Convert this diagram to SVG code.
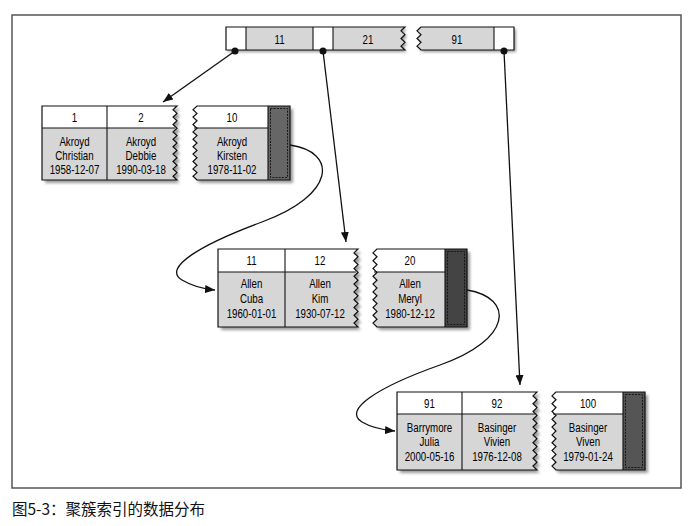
<svg xmlns="http://www.w3.org/2000/svg" xmlns:xlink="http://www.w3.org/1999/xlink" width="691" height="526" viewBox="0 0 691 526">
<style>
.frame{fill:none;stroke:#555;stroke-width:1.5}
.edge{fill:none;stroke:#111;stroke-width:1.2}
.ln{stroke:#111;stroke-width:1.1}
.body{fill:#d6d6d6}
.hdr{fill:#fff}
.dark{fill:#666}
.dash{fill:none;stroke:#111;stroke-width:0.9;stroke-dasharray:2 1.2}
.sh{fill:#9a9a9a}
.t{font-family:"Liberation Sans",Arial,sans-serif;font-size:13.5px;fill:#000;text-anchor:middle}
.s{font-size:12.8px}
.con{fill:none;stroke:#111;stroke-width:1.3}
.cap{font-family:"Noto Sans CJK SC",sans-serif;font-size:15.5px;fill:#111}
</style>
<defs>
<filter id="blur" x="-20%" y="-20%" width="140%" height="140%"><feGaussianBlur stdDeviation="1.8"/></filter>
<marker id="ah" viewBox="0 0 10 8" refX="10" refY="4" markerWidth="10" markerHeight="8" markerUnits="userSpaceOnUse" orient="auto"><path d="M0,0 L10,4 L0,8 Z" fill="#111"/></marker>
<path id="tA" d="M226,27 H405 l-4,3.83 l4,3.83 l-4,3.83 l4,3.83 l-4,3.83 l4,3.83 H226 Z"/>
<path id="tB" d="M421,27 H514 V50 H421 l-4,-3.83 l4,-3.83 l-4,-3.83 l4,-3.83 l-4,-3.83 l4,-3.83 Z"/>
<path id="aA" d="M42,106 H177 l-4,3.7 l4,3.7 l-4,3.7 l4,3.7 l-4,3.7 l4,3.7 l-4,3.7 l4,3.7 l-4,3.7 l4,3.7 l-4,3.7 l4,3.7 l-4,3.7 l4,3.7 l-4,3.7 l4,3.7 l-4,3.7 l4,3.7 l-4,3.7 l4,3.7 H42 Z"/>
<path id="aB" d="M197,106 H290 V180 H197 l-4,-3.7 l4,-3.7 l-4,-3.7 l4,-3.7 l-4,-3.7 l4,-3.7 l-4,-3.7 l4,-3.7 l-4,-3.7 l4,-3.7 l-4,-3.7 l4,-3.7 l-4,-3.7 l4,-3.7 l-4,-3.7 l4,-3.7 l-4,-3.7 l4,-3.7 l-4,-3.7 l4,-3.7 Z"/>
<path id="bA" d="M218,249 H358 l-4,3.9 l4,3.9 l-4,3.9 l4,3.9 l-4,3.9 l4,3.9 l-4,3.9 l4,3.9 l-4,3.9 l4,3.9 l-4,3.9 l4,3.9 l-4,3.9 l4,3.9 l-4,3.9 l4,3.9 l-4,3.9 l4,3.9 l-4,3.9 l4,3.9 H218 Z"/>
<path id="bB" d="M377,249 H467 V327 H377 l-4,-3.9 l4,-3.9 l-4,-3.9 l4,-3.9 l-4,-3.9 l4,-3.9 l-4,-3.9 l4,-3.9 l-4,-3.9 l4,-3.9 l-4,-3.9 l4,-3.9 l-4,-3.9 l4,-3.9 l-4,-3.9 l4,-3.9 l-4,-3.9 l4,-3.9 l-4,-3.9 l4,-3.9 Z"/>
<path id="cA" d="M397,392 H537 l-4,3.9 l4,3.9 l-4,3.9 l4,3.9 l-4,3.9 l4,3.9 l-4,3.9 l4,3.9 l-4,3.9 l4,3.9 l-4,3.9 l4,3.9 l-4,3.9 l4,3.9 l-4,3.9 l4,3.9 l-4,3.9 l4,3.9 l-4,3.9 l4,3.9 H397 Z"/>
<path id="cB" d="M556,392 H645 V470 H556 l-4,-3.9 l4,-3.9 l-4,-3.9 l4,-3.9 l-4,-3.9 l4,-3.9 l-4,-3.9 l4,-3.9 l-4,-3.9 l4,-3.9 l-4,-3.9 l4,-3.9 l-4,-3.9 l4,-3.9 l-4,-3.9 l4,-3.9 l-4,-3.9 l4,-3.9 l-4,-3.9 l4,-3.9 Z"/>
<clipPath id="ctA"><use xlink:href="#tA"/></clipPath>
<clipPath id="ctB"><use xlink:href="#tB"/></clipPath>
<clipPath id="caA"><use xlink:href="#aA"/></clipPath>
<clipPath id="caB"><use xlink:href="#aB"/></clipPath>
<clipPath id="cbA"><use xlink:href="#bA"/></clipPath>
<clipPath id="cbB"><use xlink:href="#bB"/></clipPath>
<clipPath id="ccA"><use xlink:href="#cA"/></clipPath>
<clipPath id="ccB"><use xlink:href="#cB"/></clipPath>
</defs>
<rect width="691" height="526" fill="#fff"/>
<rect class="frame" x="12" y="15" width="669" height="473"/>

<g id="root">
<use xlink:href="#tA" class="sh" transform="translate(2,2)" filter="url(#blur)"/>
<use xlink:href="#tB" class="sh" transform="translate(2,2)" filter="url(#blur)"/>
<g clip-path="url(#ctA)">
<rect x="220" y="27" width="190" height="23" class="body"/>
<rect x="226" y="27" width="20" height="23" class="hdr"/>
<rect x="313" y="27" width="20" height="23" class="hdr"/>
</g>
<g clip-path="url(#ctB)">
<rect x="410" y="27" width="110" height="23" class="body"/>
<rect x="494" y="27" width="20" height="23" class="hdr"/>
</g>
<line class="ln" x1="246" y1="27" x2="246" y2="50"/>
<line class="ln" x1="313" y1="27" x2="313" y2="50"/>
<line class="ln" x1="333" y1="27" x2="333" y2="50"/>
<line class="ln" x1="494" y1="27" x2="494" y2="50"/>
<use xlink:href="#tA" class="edge"/>
<use xlink:href="#tB" class="edge"/>
<text class="t" transform="translate(279.5 43.5) scale(0.72 1)">11</text>
<text class="t" transform="translate(368 43.5) scale(0.72 1)">21</text>
<text class="t" transform="translate(457 43.5) scale(0.72 1)">91</text>
</g>

<g id="leaf1">
<use xlink:href="#aA" class="sh" transform="translate(3,3)" filter="url(#blur)"/>
<use xlink:href="#aB" class="sh" transform="translate(3,3)" filter="url(#blur)"/>
<g clip-path="url(#caA)">
<rect x="40" y="106" width="140" height="74" class="body"/>
<rect x="40" y="106" width="140" height="22" class="hdr"/>
</g>
<line class="ln" x1="42" y1="128" x2="175" y2="128"/>
<line class="ln" x1="107" y1="106" x2="107" y2="180"/>
<use xlink:href="#aA" class="edge"/>
<g clip-path="url(#caB)">
<rect x="190" y="106" width="100" height="74" class="body"/>
<rect x="190" y="106" width="78" height="22" class="hdr"/>
<rect x="268" y="106" width="22" height="74" class="dark"/>
</g>
<rect x="270.5" y="108.5" width="17" height="69" class="dash"/>
<line class="ln" x1="194" y1="128" x2="268" y2="128"/>
<line class="ln" x1="268" y1="106" x2="268" y2="180"/>
<use xlink:href="#aB" class="edge"/>
<text class="t" transform="translate(74.5 122) scale(0.72 1)">1</text>
<text class="t" transform="translate(141 122) scale(0.72 1)">2</text>
<text class="t" transform="translate(232 122) scale(0.72 1)">10</text>
<text class="t s" transform="translate(74.5 146) scale(0.76 1)">Akroyd</text>
<text class="t s" transform="translate(74.5 160) scale(0.76 1)">Christian</text>
<text class="t s" transform="translate(74.5 174) scale(0.76 1)">1958-12-07</text>
<text class="t s" transform="translate(141 146) scale(0.76 1)">Akroyd</text>
<text class="t s" transform="translate(141 160) scale(0.76 1)">Debbie</text>
<text class="t s" transform="translate(141 174) scale(0.76 1)">1990-03-18</text>
<text class="t s" transform="translate(232 146) scale(0.76 1)">Akroyd</text>
<text class="t s" transform="translate(232 160) scale(0.76 1)">Kirsten</text>
<text class="t s" transform="translate(232 174) scale(0.76 1)">1978-11-02</text>
</g>

<g id="leaf2">
<use xlink:href="#bA" class="sh" transform="translate(3,3)" filter="url(#blur)"/>
<use xlink:href="#bB" class="sh" transform="translate(3,3)" filter="url(#blur)"/>
<g clip-path="url(#cbA)">
<rect x="216" y="249" width="145" height="78" class="body"/>
<rect x="216" y="249" width="145" height="23" class="hdr"/>
</g>
<line class="ln" x1="218" y1="272" x2="356" y2="272"/>
<line class="ln" x1="285" y1="249" x2="285" y2="327"/>
<use xlink:href="#bA" class="edge"/>
<g clip-path="url(#cbB)">
<rect x="370" y="249" width="97" height="78" class="body"/>
<rect x="370" y="249" width="75" height="23" class="hdr"/>
<rect x="445" y="249" width="22" height="78" class="dark" style="fill:#444"/>
</g>
<rect x="447.5" y="251.5" width="17" height="73" class="dash"/>
<line class="ln" x1="374" y1="272" x2="445" y2="272"/>
<line class="ln" x1="445" y1="249" x2="445" y2="327"/>
<use xlink:href="#bB" class="edge"/>
<text class="t" transform="translate(251.5 264.5) scale(0.72 1)">11</text>
<text class="t" transform="translate(320 264.5) scale(0.72 1)">12</text>
<text class="t" transform="translate(410 264.5) scale(0.72 1)">20</text>
<text class="t" transform="translate(251.5 288) scale(0.72 1)">Allen</text>
<text class="t" transform="translate(251.5 302.5) scale(0.72 1)">Cuba</text>
<text class="t" transform="translate(251.5 318) scale(0.72 1)">1960-01-01</text>
<text class="t" transform="translate(320 288) scale(0.72 1)">Allen</text>
<text class="t" transform="translate(320 302.5) scale(0.72 1)">Kim</text>
<text class="t" transform="translate(320 318) scale(0.72 1)">1930-07-12</text>
<text class="t" transform="translate(410 288) scale(0.72 1)">Allen</text>
<text class="t" transform="translate(410 302.5) scale(0.72 1)">Meryl</text>
<text class="t" transform="translate(410 318) scale(0.72 1)">1980-12-12</text>
</g>

<g id="leaf3">
<use xlink:href="#cA" class="sh" transform="translate(3,3)" filter="url(#blur)"/>
<use xlink:href="#cB" class="sh" transform="translate(3,3)" filter="url(#blur)"/>
<g clip-path="url(#ccA)">
<rect x="395" y="392" width="145" height="78" class="body"/>
<rect x="395" y="392" width="145" height="22" class="hdr"/>
</g>
<line class="ln" x1="397" y1="414" x2="535" y2="414"/>
<line class="ln" x1="462" y1="392" x2="462" y2="470"/>
<use xlink:href="#cA" class="edge"/>
<g clip-path="url(#ccB)">
<rect x="549" y="392" width="96" height="78" class="body"/>
<rect x="549" y="392" width="74" height="22" class="hdr"/>
<rect x="623" y="392" width="22" height="78" class="dark" style="fill:#555"/>
</g>
<rect x="625.5" y="394.5" width="17" height="73" class="dash"/>
<line class="ln" x1="553" y1="414" x2="623" y2="414"/>
<line class="ln" x1="623" y1="392" x2="623" y2="470"/>
<use xlink:href="#cB" class="edge"/>
<text class="t" transform="translate(429.5 407.5) scale(0.72 1)">91</text>
<text class="t" transform="translate(497 407.5) scale(0.72 1)">92</text>
<text class="t" transform="translate(588 407.5) scale(0.72 1)">100</text>
<text class="t" transform="translate(429.5 431.5) scale(0.72 1)">Barrymore</text>
<text class="t" transform="translate(429.5 445.5) scale(0.72 1)">Julia</text>
<text class="t" transform="translate(429.5 461) scale(0.72 1)">2000-05-16</text>
<text class="t" transform="translate(497 431.5) scale(0.72 1)">Basinger</text>
<text class="t" transform="translate(497 445.5) scale(0.72 1)">Vivien</text>
<text class="t" transform="translate(497 461) scale(0.72 1)">1976-12-08</text>
<text class="t" transform="translate(588 431.5) scale(0.72 1)">Basinger</text>
<text class="t" transform="translate(588 445.5) scale(0.72 1)">Viven</text>
<text class="t" transform="translate(588 461) scale(0.72 1)">1979-01-24</text>
</g>

<g id="connectors">
<line class="con" x1="235" y1="51" x2="163" y2="102" marker-end="url(#ah)"/>
<line class="con" x1="323" y1="51" x2="346" y2="242" marker-end="url(#ah)"/>
<line class="con" x1="504" y1="51" x2="520" y2="385" marker-end="url(#ah)"/>
<path class="con" d="M290,145 C338,152 336,195 262,222 C200,245 162,268 182,280 C192,286 204,289 215,290" marker-end="url(#ah)"/>
<path class="con" d="M467,290 C515,298 512,340 440,365 C378,387 342,410 362,422 C372,428 384,430 395,431" marker-end="url(#ah)"/>
<circle cx="235" cy="51" r="3.5" fill="#111"/>
<circle cx="323" cy="51" r="3.5" fill="#111"/>
<circle cx="504" cy="51" r="3.5" fill="#111"/>
</g>

<text class="cap" x="12" y="515">图5-3：聚簇索引的数据分布</text>
</svg>
